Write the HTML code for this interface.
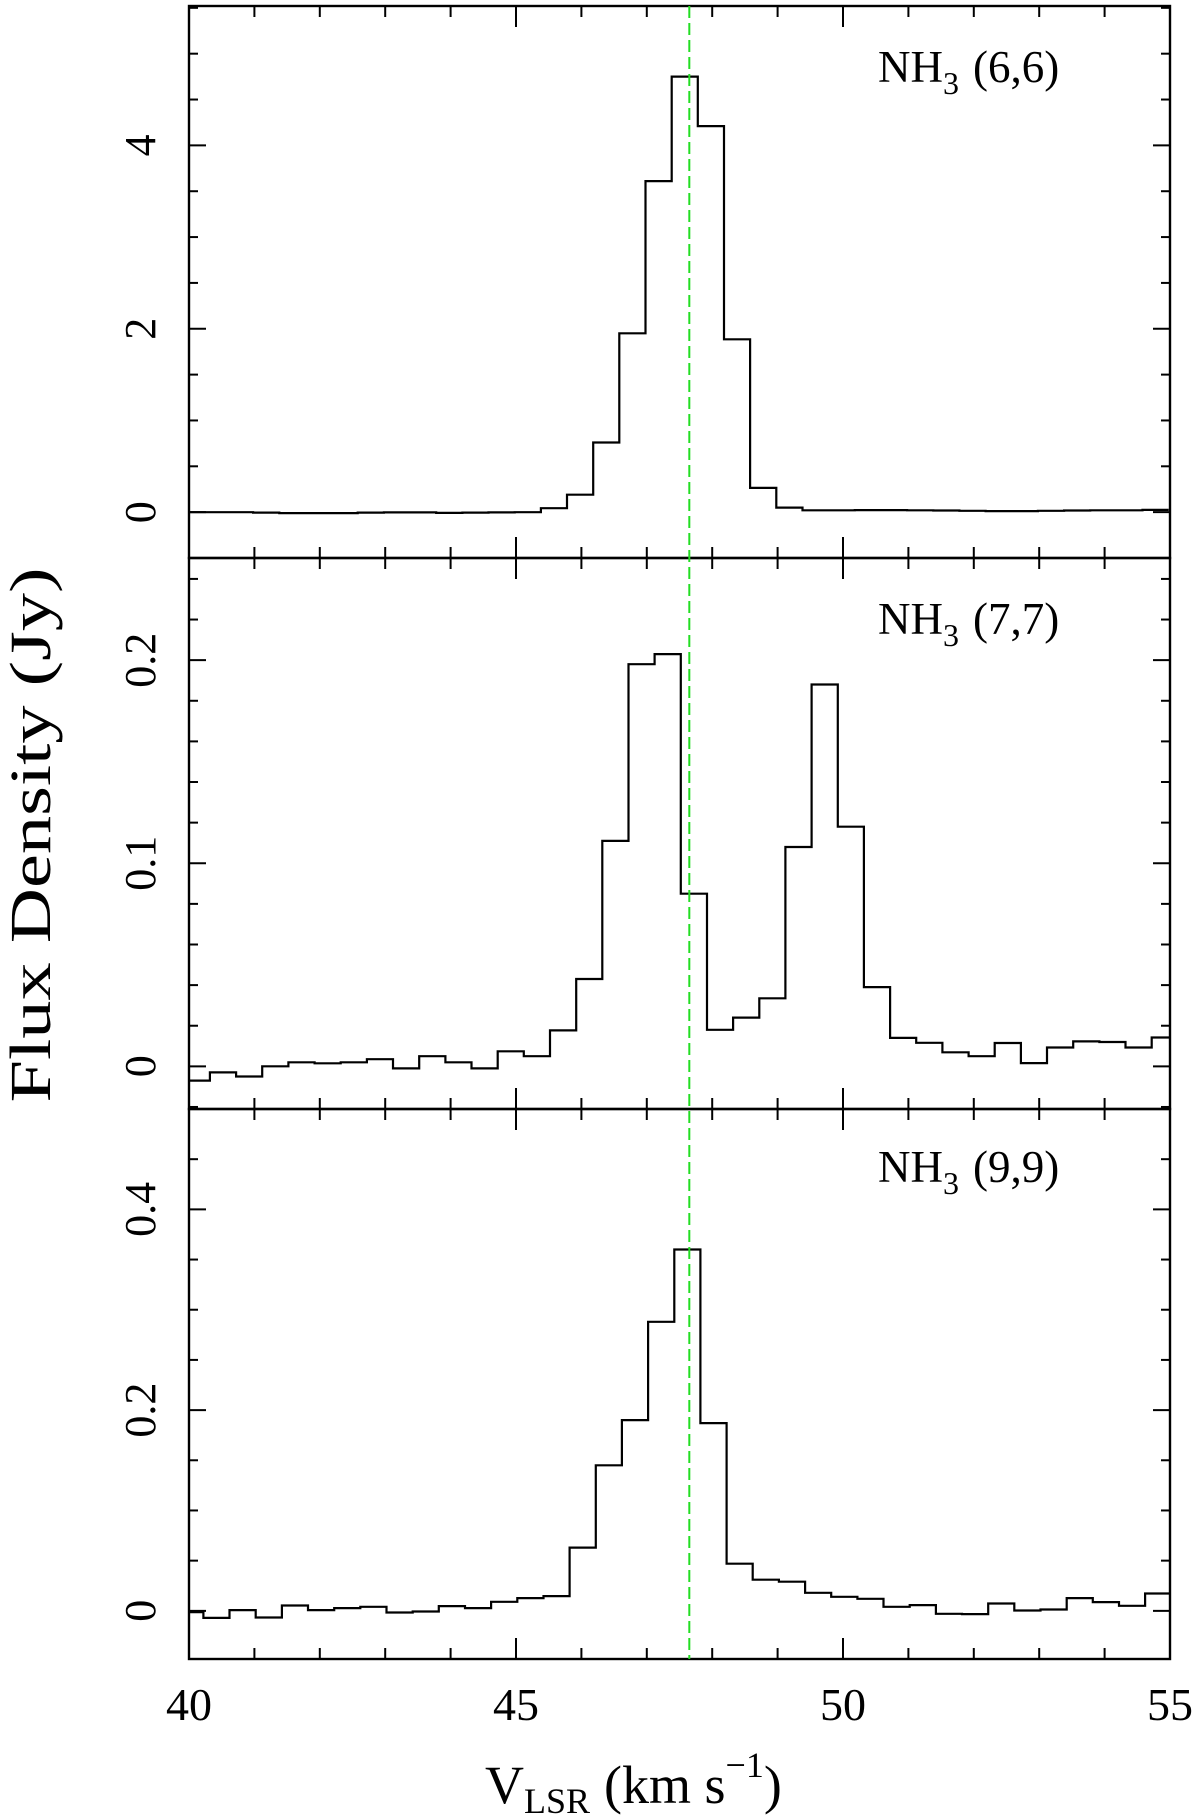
<!DOCTYPE html>
<html><head><meta charset="utf-8"><style>
html,body{margin:0;padding:0;background:#fff;}
svg{display:block;}
text{font-family:"Liberation Serif",serif;fill:#000;}
</style></head><body>
<svg id="chart" width="1200" height="1818" viewBox="0 0 1200 1818" xmlns="http://www.w3.org/2000/svg"></svg>
<script>
// ---- data ----
const velocityRange = [40, 55];
const channelWidth = 0.4;
const markerVelocity = 47.65;
const panelNames = ["NH3 (6,6)", "NH3 (7,7)", "NH3 (9,9)"];
const firstEdges = [40.18, 40.32, 40.22];
const flux66 = [0.0,0.0,0.0,-0.005,-0.01,-0.01,-0.01,-0.005,-0.003,-0.003,-0.008,-0.005,-0.003,0.0,
  0.043,0.19,0.76,1.95,3.61,4.75,4.21,1.885,0.265,0.05,0.02,0.02,0.022,0.022,0.02,0.018,0.015,0.012,0.012,0.015,0.018,0.02,0.02,0.025];
const flux77 = [-0.007,-0.003,-0.005,0.0,0.002,0.0015,0.002,0.0035,-0.001,0.005,0.002,-0.001,0.0074,0.005,0.0177,0.043,0.111,0.198,0.203,0.085,
  0.018,0.024,0.0335,0.108,0.188,0.118,0.039,0.014,0.0116,0.0069,0.005,0.0115,0.0016,0.0093,0.0123,0.012,0.0093,0.0142];
const flux99 = [-0.0013,-0.007,0.0007,-0.0067,0.0053,0.0007,0.0027,0.004,-0.0017,-0.0007,0.0047,0.0027,0.009,0.0127,0.0147,0.063,0.145,0.19,0.288,0.36,
  0.187,0.047,0.031,0.029,0.018,0.014,0.012,0.004,0.0057,-0.003,-0.0033,0.0073,0.0003,0.0013,0.0127,0.0087,0.005,0.0173];
const yRanges = [[-0.5, 5.52], [-0.021, 0.2503], [-0.048, 0.5]];
const yMajorTicks = [[0, 2, 4], [0, 0.1, 0.2], [0, 0.2, 0.4]];
const yTickLabels = [["0", "2", "4"], ["0", "0.1", "0.2"], ["0", "0.2", "0.4"]];
const yMinorSteps = [0.5, 0.02, 0.05];
const xTickValues = [40, 45, 50, 55];
const xTickLabels = ["40", "45", "50", "55"];
const series = [flux66, flux77, flux99];

// ---- layout ----
const NS = "http://www.w3.org/2000/svg";
const svg = document.getElementById("chart");
const X0 = 189, X1 = 1170;
const panelTops = [6, 558, 1109], panelBottoms = [558, 1109, 1659];
function xScale(v){ return X0 + (v - velocityRange[0]) / (velocityRange[1] - velocityRange[0]) * (X1 - X0); }
function yScale(p, v){ const r = yRanges[p]; return panelBottoms[p] - (v - r[0]) / (r[1] - r[0]) * (panelBottoms[p] - panelTops[p]); }
function mk(tag, attrs, parent){ const e = document.createElementNS(NS, tag); for (const k in attrs) e.setAttribute(k, attrs[k]); (parent||svg).appendChild(e); return e; }

for (let p = 0; p < 3; p++) {
  const g = mk("g", {});
  
  
  const top = panelTops[p], bot = panelBottoms[p];
  // histogram
  const data = series[p];
  let d = "";
  for (let i = 0; i < data.length; i++) {
    let a = i === 0 ? velocityRange[0] : firstEdges[p] + channelWidth * (i - 1);
    let b = firstEdges[p] + channelWidth * i;
    a = Math.max(a, velocityRange[0]); b = Math.min(b, velocityRange[1]);
    if (b <= a) continue;
    const y = yScale(p, data[i]);
    d += (d === "" ? "M" : "L") + xScale(a).toFixed(1) + " " + y.toFixed(1) + " L" + xScale(b).toFixed(1) + " " + y.toFixed(1) + " ";
  }
  const path = mk("path", {d: d, fill: "none", stroke: "#000", "stroke-width": 2.2}, g);
  
  
  // frame
  const fr = mk("rect", {x: X0, y: top, width: X1 - X0, height: bot - top, fill: "none", stroke: "#000", "stroke-width": 2.4}, g);
  
  
  // x ticks
  for (let v = velocityRange[0]; v <= velocityRange[1]; v++) {
    const x = xScale(v), len = (v % 5 === 0) ? 21 : 11;
    const t1 = mk("line", {x1: x, x2: x, y1: bot, y2: bot - len, stroke: "#000", "stroke-width": 2}, g);
    
    
    const t2 = mk("line", {x1: x, x2: x, y1: top, y2: top + len, stroke: "#000", "stroke-width": 2}, g);
    
    
  }
  // y ticks
  const r = yRanges[p], st = yMinorSteps[p];
  for (let k = Math.ceil(r[0] / st - 1e-6); k * st <= r[1] + 1e-9; k++) {
    const v = k * st, y = yScale(p, v);
    const major = yMajorTicks[p].some(m => Math.abs(m - v) < 1e-6);
    const len = major ? 17 : 9;
    const t1 = mk("line", {x1: X0, x2: X0 + len, y1: y, y2: y, stroke: "#000", "stroke-width": 2}, g);
    
    
    const t2 = mk("line", {x1: X1, x2: X1 - len, y1: y, y2: y, stroke: "#000", "stroke-width": 2}, g);
    
    
  }
  // y tick labels
  yMajorTicks[p].forEach((v, j) => {
    const y = yScale(p, v);
    const t = mk("text", {x: 0, y: 0, "font-size": 44, "text-anchor": "middle", transform: "translate(155," + y.toFixed(1) + ") rotate(-90)"}, g);
    t.textContent = yTickLabels[p][j];
    
    
  });
  // panel label
  const lab = mk("text", {x: 878, y: [82, 634, 1182][p], "font-size": 45}, g);
  
  
  lab.innerHTML = 'NH<tspan dy="12" font-size="32">3</tspan><tspan dy="-12" dx="14">(' + panelNames[p].slice(5, 8) + ')</tspan>';
}

// green dashed marker
const gl = mk("line", {x1: xScale(markerVelocity), x2: xScale(markerVelocity), y1: panelTops[0], y2: panelBottoms[2], stroke: "#22dd22", "stroke-width": 2, "stroke-dasharray": "12 5"});



// x tick labels
xTickValues.forEach((v, j) => {
  const t = mk("text", {x: xScale(v), y: 1720, "font-size": 46, "text-anchor": "middle"});
  t.textContent = xTickLabels[j];
  
  
});
</script>
<svg style="position:absolute;left:0;top:0" width="1200" height="1818">
  <text x="485" y="1803" font-size="54" style="font-family:'Liberation Serif',serif">V<tspan dy="10" font-size="36">LSR</tspan><tspan dy="-10" dx="14">(km  s</tspan><tspan dy="-26" font-size="36">−1</tspan><tspan dy="26">)</tspan></text>
  <text x="0" y="0" font-size="58" text-anchor="middle" textLength="535" lengthAdjust="spacingAndGlyphs" transform="translate(50,835) rotate(-90)" style="font-family:'Liberation Serif',serif">Flux Density (Jy)</text>
</svg>
</body></html>
